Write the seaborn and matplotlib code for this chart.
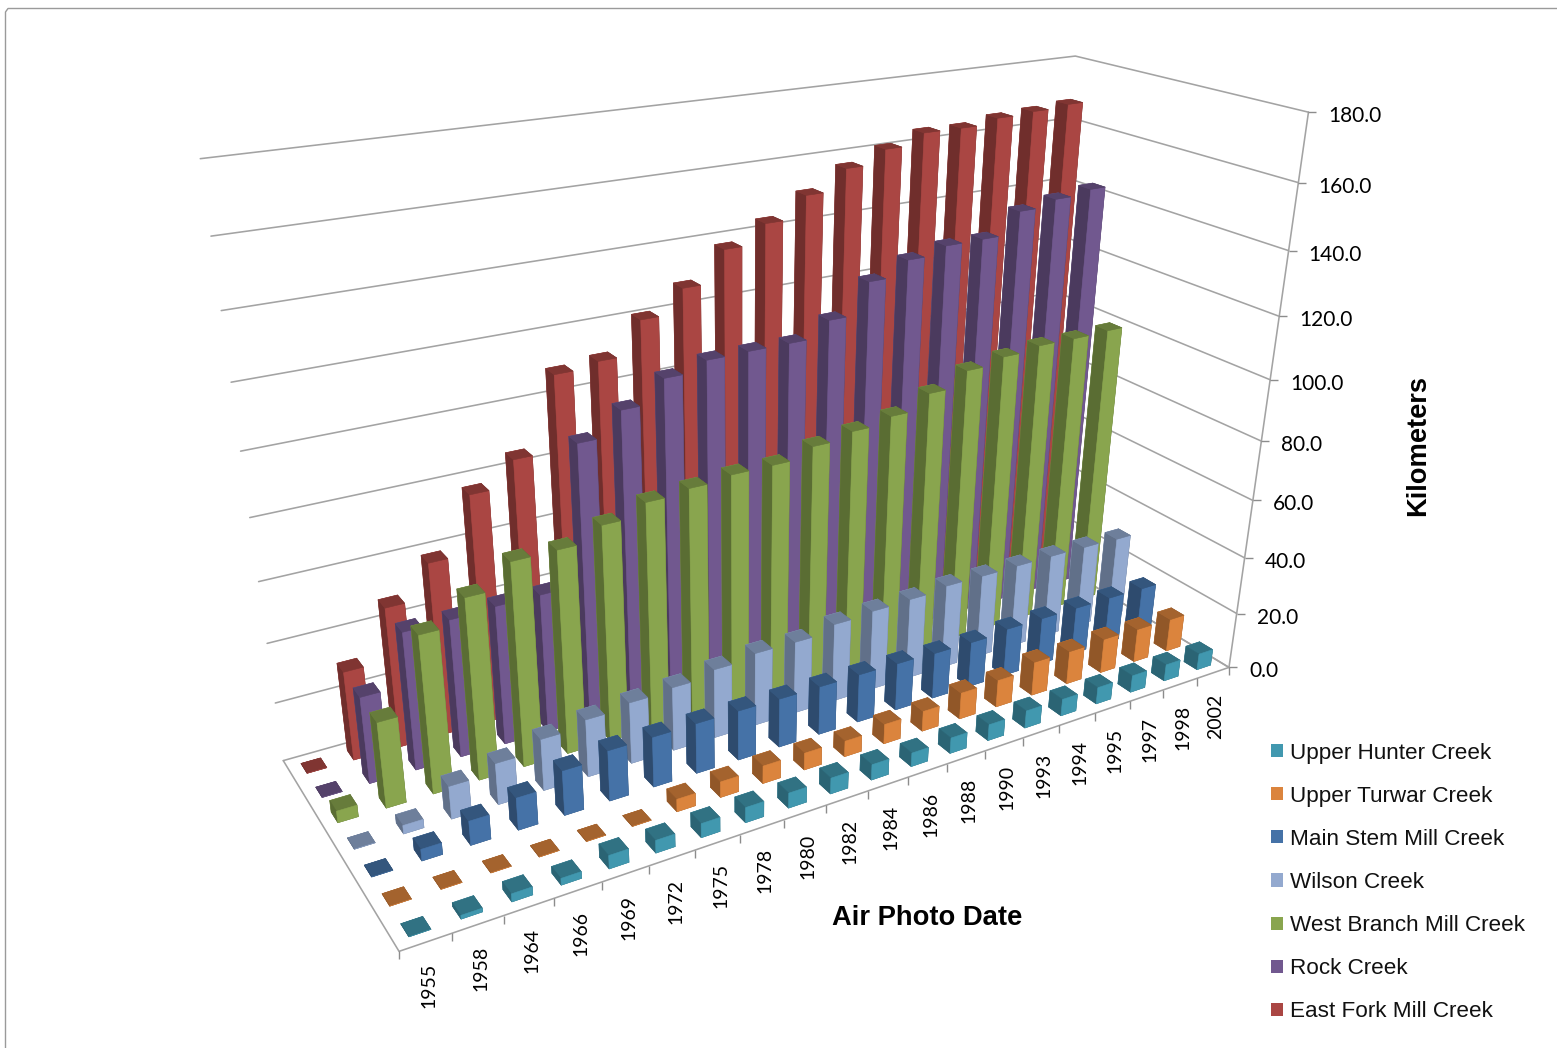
import numpy as np
import matplotlib
matplotlib.use("Agg")
import matplotlib.pyplot as plt
import seaborn as sns
from matplotlib.lines import Line2D
from matplotlib.patches import Patch

sns.set_theme(style="white")

# Air photo dates and cumulative road length per watershed (km)
years = ["1955", "1958", "1964", "1966", "1969", "1972", "1975", "1978", "1980", "1982",
         "1984", "1986", "1988", "1990", "1993", "1994", "1995", "1997", "1998", "2002"]
names = ["Upper Hunter Creek", "Upper Turwar Creek", "Main Stem Mill Creek", "Wilson Creek",
         "West Branch Mill Creek", "Rock Creek", "East Fork Mill Creek"]
upper_hunter = [0, 1.2, 2.6, 2.2, 4.4, 4.2, 4.7, 5.1, 5.1, 5.4, 5.3, 4.7, 5.4, 5.6, 6.1, 5.9, 5.9, 6.0, 5.9, 5.8]
upper_turwar = [0, 0, 0, 0, 0, 0, 4.2, 5.3, 6.0, 5.8, 5.4, 6.8, 7.0, 9.2, 9.5, 12.0, 11.8, 12.3, 12.0, 11.8]
main_stem = [0, 3.8, 8.0, 10.7, 15.0, 17.0, 17.0, 17.1, 17.0, 16.8, 16.8, 16.8, 16.6, 16.2, 16.1, 17.0, 17.0, 17.0, 17.0, 16.8]
wilson = [0, 2.8, 11.0, 13.9, 17.4, 19.5, 20.9, 21.8, 23.8, 25.3, 25.2, 27.5, 28.3, 28.7, 29.8, 29.7, 29.8, 29.8, 29.6, 29.2]
west_branch = [3.9, 28.6, 52.4, 60.3, 67.9, 68.0, 72.4, 76.3, 77.5, 78.7, 78.7, 81.8, 83.8, 85.9, 90.7, 95.6, 97.6, 98.8, 98.7, 99.0]
rock = [0, 29.2, 46.4, 46.5, 47.1, 47.1, 92.5, 99.9, 107.0, 110.0, 110.2, 110.2, 115.1, 125.0, 129.7, 132.1, 132.2, 139.2, 141.2, 142.6]
east_fork = [0, 30.2, 47.5, 58.5, 77.1, 85.1, 108.8, 110.3, 120.6, 128.0, 137.7, 143.6, 150.3, 156.7, 160.9, 164.3, 164.2, 165.8, 166.4, 167.2]
series = [upper_hunter, upper_turwar, main_stem, wilson, west_branch, rock, east_fork]
z_ticks = np.arange(0, 181, 20)
palette = sns.color_palette(["#4198AF", "#DB843D", "#4572A7", "#93A9CF", "#89A54E", "#71588F", "#AA4643"])

# Camera: homogeneous map from (category, series, km) to figure pixels
CAMERA = np.array([[59.7184079, -9.1770593, -0.7469213, 399.0407821],
                   [-4.3016739, -7.4793795, -4.1125300, 951.3612833],
                   [0.0148270, 0.0259940, -0.0010084, 1.0]])
W, H = 1557, 1048


def to_figure(x, y, z, dx=0.0, dy=0.0):
    """Figure-fraction position of a scene point, shifted by a pixel offset."""
    u, v, w = CAMERA @ np.array([x, y, z, 1.0])
    return (u / w + dx) / W, 1 - (v / w + dy) / H


fig = plt.figure(figsize=(W / 100, H / 100), dpi=100, facecolor="white")
ax = fig.add_axes([0, 0, 1, 1], projection="3d")
ax.apply_aspect = lambda position=None: None
ax.set_axis_off()
ax.patch.set_alpha(0)
ax.computed_zorder = False


def get_proj():
    to_data = ax.transData.inverted().get_matrix()
    flip = np.array([[1, 0, 0], [0, -1, H], [0, 0, 1.0]])
    m = to_data @ flip @ CAMERA
    return np.vstack([m[0], m[1], [0, 0, 0, -1], m[2]])


ax.get_proj = get_proj

# Walls, floor and axis ticks
GRID = "#a3a3a3"
TICK = "#8c8c8c"
nx, ny = len(years), len(names)
for z in z_ticks:
    ax.plot([0, nx, nx], [ny, ny, 0], [z, z, z], color=GRID, lw=1.15, zorder=1)
ax.plot([0, 0, nx, nx], [ny, 0, 0, ny], [0, 0, 0, 0], color=GRID, lw=1.15, zorder=1)
ax.plot([nx, nx], [0, 0], [0, 180], color=GRID, lw=1.15, zorder=1)
ax.plot([nx] * len(z_ticks), [0] * len(z_ticks), z_ticks, ls="", marker=1, ms=6, mew=1, color=TICK, zorder=1)
ax.plot(np.arange(nx + 1), [0] * (nx + 1), [0] * (nx + 1), ls="", marker=3, ms=6, mew=1, color=TICK, zorder=1)

# Columns, painted from the back corner forwards
BAR_X, BAR_Y = 0.42, 0.42
order = 2
for s in range(ny - 1, -1, -1):
    base = np.array(palette[s])
    faces = [base * .75, base * .75, base, base, base * .66, base * .66]
    for i in range(nx - 1, -1, -1):
        ax.bar3d(i + .5 - BAR_X / 2, s + .5 - BAR_Y / 2, 0, BAR_X, BAR_Y, series[s][i],
                 color=faces, edgecolor=faces, linewidth=.4, shade=False, zorder=order)
        order += 1

# Axis labels
for i, year in enumerate(years):
    fx, fy = to_figure(i + .5, 0, 0, dx=3, dy=21)
    fig.text(fx, fy, year, rotation=90, ha="center", va="top", fontsize=14, family="Lato", color="black")
for z in z_ticks:
    fx, fy = to_figure(nx, 0, z, dx=20, dy=4)
    fig.text(fx, fy, f"{z:.1f}", ha="left", va="center", fontsize=15, family="Lato", color="black")
fig.text(927 / W, 1 - 918 / H, "Air Photo Date", ha="center", va="center", fontsize=19.7,
         family="Liberation Sans", weight="bold", color="black")
fig.text(1418 / W, 1 - 445.5 / H, "Kilometers", ha="center", va="center", rotation=90, fontsize=19.6,
         family="Liberation Sans", weight="bold", color="black")

handles = [Patch(facecolor=c, edgecolor="none", label=n) for c, n in zip(palette, names)]
fig.legend(handles=handles, loc="upper left", bbox_to_anchor=(1271 / W, 1 - 742.5 / H), frameon=False,
           prop={"family": "Liberation Sans", "size": 16.2}, labelcolor="#111111",
           handlelength=.53, handleheight=.53, handletextpad=.3, labelspacing=.985,
           borderpad=0, borderaxespad=0)

# Chart-area border
fig.add_artist(Line2D([5.5 / W, 5.5 / W, 8 / W, 1], [0, 1 - 12 / H, 1 - 8.5 / H, 1 - 8.5 / H],
                      color="#9a9a9a", lw=1, transform=fig.transFigure))
fig.savefig("out.png", dpi=100)
